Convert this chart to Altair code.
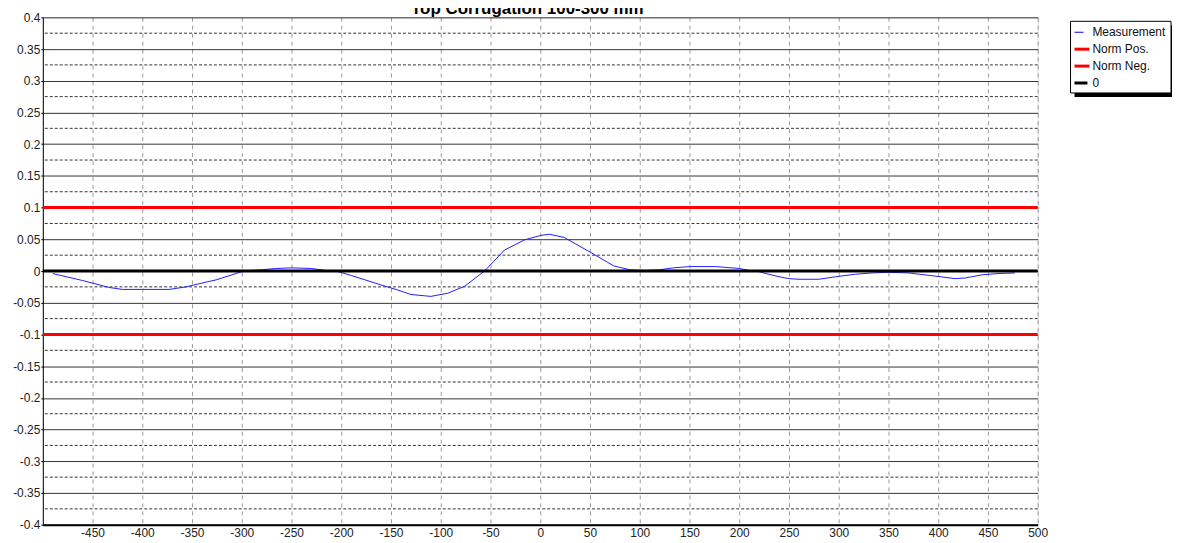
import altair as alt
import pandas as pd

# ---------------- data ----------------
title_text = "Top Corrugation 100-300 mm"

meas_x = [-490, -460, -433, -420, -400, -373, -356, -340, -326, -310, -300, -290,
          -280, -266, -250, -230, -216, -203, -190, -176, -160, -143, -130, -110,
          -93, -76, -56, -36, -16, 0, 9, 24, 50, 74, 90, 105, 120, 134, 150, 177,
          200, 210, 220, 227, 240, 250, 260, 280, 297, 317, 334, 350, 370, 397,
          417, 427, 444, 460, 477]
meas_y = [-0.004, -0.015, -0.026, -0.029, -0.029, -0.029, -0.025, -0.019, -0.014,
          -0.006, -0.001, 0.001, 0.002, 0.004, 0.005, 0.004, 0.001, -0.001, -0.007,
          -0.014, -0.022, -0.030, -0.037, -0.040, -0.035, -0.024, 0.0, 0.033, 0.049,
          0.056, 0.058, 0.053, 0.030, 0.008, 0.002, 0.001, 0.002, 0.005, 0.007,
          0.007, 0.004, 0.001, -0.001, -0.004, -0.009, -0.012, -0.013, -0.013,
          -0.009, -0.005, -0.003, -0.002, -0.003, -0.008, -0.012, -0.011, -0.006,
          -0.004, -0.003]

norm_pos = [0.1]
norm_neg = [-0.1]
zero_level = [0.0]

x_ticks = [-450, -400, -350, -300, -250, -200, -150, -100, -50, 0, 50, 100, 150,
           200, 250, 300, 350, 400, 450, 500]
y_ticks = [0.4, 0.35, 0.3, 0.25, 0.2, 0.15, 0.1, 0.05, 0, -0.05, -0.1, -0.15,
           -0.2, -0.25, -0.3, -0.35, -0.4]
y_minor = [0.375, 0.325, 0.275, 0.225, 0.175, 0.125, 0.075, 0.025, -0.025,
           -0.075, -0.125, -0.175, -0.225, -0.275, -0.325, -0.375]

legend_names = ["Measurement", "Norm Pos.", "Norm Neg.", "0"]
legend_colors = ["#0000ff", "#ff0000", "#ff0000", "#000000"]
legend_widths = [1, 3, 3, 3]
legend_len = [9, 15, 15, 13]

FONT = "Liberation Sans"
W, H = 1000, 510

# ---------------- scales / axes ----------------
xs = alt.Scale(domain=[-500, 500], nice=False, zero=False)
ys = alt.Scale(domain=[-0.4, 0.4], nice=False, zero=False)
lab_expr = "replace(format(datum.value, '~g'), '\u2212', '-')"

xaxis = alt.Axis(values=x_ticks, title=None, grid=True, gridDash=[4, 4],
                 gridColor="#9a9a9a", gridWidth=1, domainColor="black",
                 domainWidth=2, ticks=False, labelPadding=3, labelFontSize=12,
                 labelFont=FONT, labelColor="#222222", labelFlush=False,
                 labelOverlap=False, labelExpr=lab_expr)
yaxis = alt.Axis(values=y_ticks, title=None, grid=True, gridColor="#333333",
                 gridWidth=1, domainColor="black", domainWidth=1, tickSize=2,
                 tickColor="black", labelPadding=1, labelFontSize=12,
                 labelFont=FONT, labelColor="#222222", labelFlush=False,
                 labelOverlap=False, labelExpr=lab_expr)


def X(field="x"):
    return alt.X(f"{field}:Q", scale=xs, axis=xaxis)


def Y(field="y"):
    return alt.Y(f"{field}:Q", scale=ys, axis=yaxis)


meas_df = pd.DataFrame({"x": meas_x, "y": meas_y})
dummy = pd.DataFrame({"a": [0]})

minor = alt.Chart(pd.DataFrame({"y": y_minor})).mark_rule(
    color="#333333", strokeWidth=1, strokeDash=[3, 2]).encode(y=Y())

meas = alt.Chart(meas_df).mark_line(color="#1e1eff", strokeWidth=1).encode(
    x=X(), y=Y())

zero_rule = alt.Chart(pd.DataFrame({"y": zero_level})).mark_rule(
    color="black", strokeWidth=3).encode(y=Y())
pos_rule = alt.Chart(pd.DataFrame({"y": norm_pos})).mark_rule(
    color="#ff0000", strokeWidth=3).encode(y=Y())
neg_rule = alt.Chart(pd.DataFrame({"y": norm_neg})).mark_rule(
    color="#ff0000", strokeWidth=3).encode(y=Y())

layers = [minor, meas, zero_rule, pos_rule, neg_rule]

# ---------------- legend (manual box) ----------------
bx0, bx1, by0, by1 = 1033, 1134, 4, 76
layers.append(alt.Chart(dummy).mark_rect(color="black").encode(
    x=alt.value(bx0 + 4), x2=alt.value(bx1 + 4),
    y=alt.value(by0 + 4), y2=alt.value(by1 + 4)))
layers.append(alt.Chart(dummy).mark_rect(fill="white", stroke="black",
                                         strokeWidth=1).encode(
    x=alt.value(bx0), x2=alt.value(bx1), y=alt.value(by0), y2=alt.value(by1)))
for i, (nm, col, sw, ln) in enumerate(zip(legend_names, legend_colors,
                                          legend_widths, legend_len)):
    yy = 15 + i * 17
    layers.append(alt.Chart(dummy).mark_rule(color=col, strokeWidth=sw).encode(
        x=alt.value(bx0 + 4), x2=alt.value(bx0 + 4 + ln), y=alt.value(yy)))
    layers.append(alt.Chart(dummy).mark_text(
        text=nm, align="left", baseline="middle", font=FONT, fontSize=12,
        color="#111111").encode(x=alt.value(bx0 + 22), y=alt.value(yy)))

# ---------------- title ----------------
layers.append(alt.Chart(dummy).mark_text(
    text=title_text, align="center", baseline="alphabetic", font=FONT,
    fontSize=17, fontWeight="bold", color="black").encode(
    x=alt.value(487), y=alt.value(-3)))

chart = alt.layer(*layers).properties(
    width=W, height=H,
    autosize=alt.AutoSizeParams(type="none"),
    padding={"left": 35, "top": 8, "right": 135, "bottom": 19},
).configure_view(stroke="black", strokeWidth=1).configure(background="white")

chart.save("out.html", embed_options={"renderer": "svg", "actions": False})
